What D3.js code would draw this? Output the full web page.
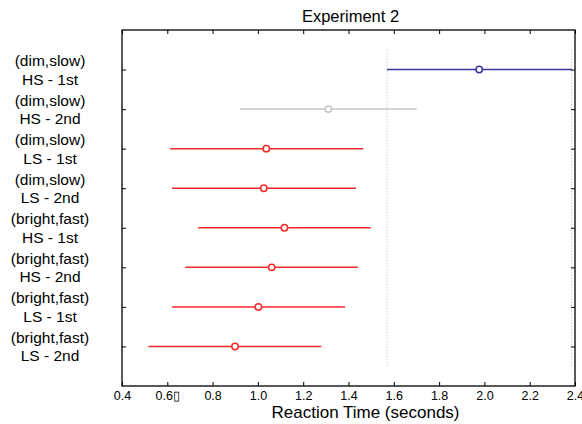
<!DOCTYPE html>
<html>
<head>
<meta charset="utf-8">
<script src="https://cdn.jsdelivr.net/npm/d3@7"></script>
<style>
  body { margin: 0; background: #fff; }
  svg { font-family: "Liberation Sans", Arial, sans-serif; }
  .axis path, .axis line { stroke: #000; }
</style>
</head>
<body>
<div id="chart"></div>
<script>
// groups, top to bottom
var groupTop = ["(dim,slow)", "(dim,slow)", "(dim,slow)", "(dim,slow)",
                "(bright,fast)", "(bright,fast)", "(bright,fast)", "(bright,fast)"];
var groupBottom = ["HS - 1st", "HS - 2nd", "LS - 1st", "LS - 2nd",
                   "HS - 1st", "HS - 2nd", "LS - 1st", "LS - 2nd"];
var means = [1.977, 1.311, 1.037, 1.026, 1.117, 1.061, 1.002, 0.899];
var lower = [1.570, 0.921, 0.612, 0.621, 0.736, 0.679, 0.621, 0.516];
var upper = [2.385, 1.701, 1.465, 1.433, 1.498, 1.442, 1.385, 1.280];
var groupStatus = ["selected", "same", "diff", "diff", "diff", "diff", "diff", "diff"];
var xTicks = [0.4, 0.6, 0.8, 1.0, 1.2, 1.4, 1.6, 1.8, 2.0, 2.2, 2.4];
var xTickLabels = ["0.4", "0.6\u25AF", "0.8", "1.0", "1.2", "1.4", "1.6", "1.8", "2.0", "2.2", "2.4"];

var width = 582, height = 424,
    margin = {top: 30, right: 7, bottom: 38, left: 122},
    innerWidth = width - margin.left - margin.right,
    innerHeight = height - margin.top - margin.bottom;

var colors = {selected: "#3434a4", same: "#c6c6c6", diff: "#f42a2a"};

var svg = d3.select("#chart").append("svg")
    .attr("width", width)
    .attr("height", height);

var g = svg.append("g")
    .attr("transform", "translate(" + margin.left + "," + margin.top + ")");

var x = d3.scaleLinear().domain([0.4, 2.4]).range([0, innerWidth]);
var y = d3.scaleLinear().domain([0, 9]).range([0, innerHeight]);

var rows = d3.range(means.length);

// dotted reference lines at the selected group's interval
g.selectAll(".ref")
    .data([lower[0], upper[0]])
    .enter().append("line")
    .attr("class", "ref")
    .attr("x1", function(d) { return x(d); })
    .attr("x2", function(d) { return x(d); })
    .attr("y1", y(0.5))
    .attr("y2", y(8.5))
    .attr("stroke", "#bbb")
    .attr("stroke-width", 1)
    .attr("stroke-dasharray", "1,2");

// intervals
g.selectAll(".ci")
    .data(rows)
    .enter().append("line")
    .attr("class", "ci")
    .attr("x1", function(i) { return x(lower[i]); })
    .attr("x2", function(i) { return x(upper[i]); })
    .attr("y1", function(i) { return y(i + 1); })
    .attr("y2", function(i) { return y(i + 1); })
    .attr("stroke", function(i) { return colors[groupStatus[i]]; })
    .attr("stroke-width", 1.5);

g.selectAll(".mean")
    .data(rows)
    .enter().append("circle")
    .attr("class", "mean")
    .attr("cx", function(i) { return x(means[i]); })
    .attr("cy", function(i) { return y(i + 1); })
    .attr("r", 3.2)
    .attr("fill", "#fff")
    .attr("stroke", function(i) { return colors[groupStatus[i]]; })
    .attr("stroke-width", 1.5);

// axes, ticks pointing inward (box)
var xb = d3.axisBottom(x).tickValues(xTicks).tickSize(-4).tickPadding(5)
    .tickFormat(function(d, i) { return xTickLabels[i]; });
var xt = d3.axisTop(x).tickValues(xTicks).tickSize(-4).tickFormat("");
var yl = d3.axisLeft(y).tickValues(rows.map(function(i) { return i + 1; })).tickSize(-4).tickFormat("");
var yr = d3.axisRight(y).tickValues(rows.map(function(i) { return i + 1; })).tickSize(-4).tickFormat("");

var gxb = g.append("g").attr("class", "axis")
    .attr("transform", "translate(0," + innerHeight + ")").call(xb);
g.append("g").attr("class", "axis").call(xt);
g.append("g").attr("class", "axis").call(yl);
g.append("g").attr("class", "axis")
    .attr("transform", "translate(" + innerWidth + ",0)").call(yr);

g.selectAll(".axis .domain").remove();
g.append("rect")
    .attr("width", innerWidth).attr("height", innerHeight)
    .attr("fill", "none").attr("stroke", "#000").attr("stroke-width", 1.3);

gxb.attr("font-size", 12.5).attr("font-family", null);
gxb.selectAll("text").attr("fill", "#000");

// group labels, two lines each
var lab = svg.selectAll(".glab")
    .data(rows)
    .enter().append("text")
    .attr("class", "glab")
    .attr("text-anchor", "middle")
    .attr("font-size", 15.5)
    .attr("fill", "#000");
lab.append("tspan")
    .attr("x", 50)
    .attr("y", function(i) { return margin.top + y(i + 1) - 3.5; })
    .text(function(i) { return groupTop[i]; });
lab.append("tspan")
    .attr("x", 50)
    .attr("y", function(i) { return margin.top + y(i + 1) + 15; })
    .text(function(i) { return groupBottom[i]; });

svg.append("text")
    .attr("x", margin.left + innerWidth / 2 + 2)
    .attr("y", 22)
    .attr("text-anchor", "middle")
    .attr("font-size", 16.5)
    .text("Experiment 2");

svg.append("text")
    .attr("x", margin.left + innerWidth / 2 + 17)
    .attr("y", 418)
    .attr("text-anchor", "middle")
    .attr("font-size", 17)
    .text("Reaction Time (seconds)");
</script>
</body>
</html>
